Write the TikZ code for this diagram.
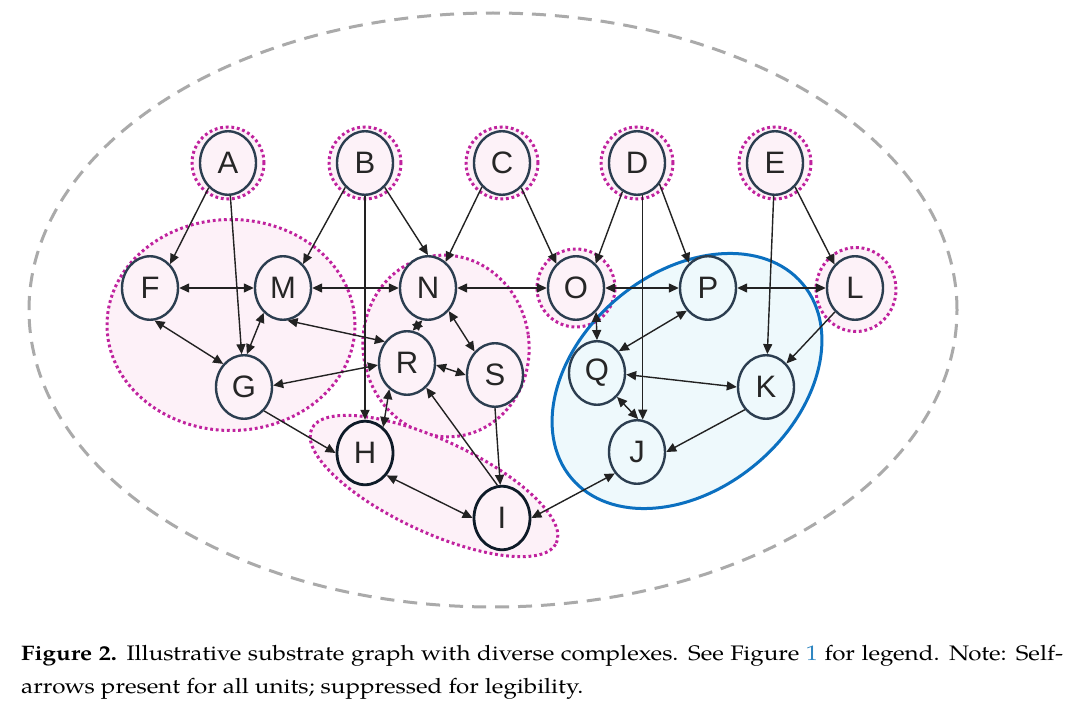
\documentclass[tikz,border=0pt]{standalone}
\usepackage{fontspec}
\setmainfont{TeX Gyre Pagella}[FakeStretch=1.15]
\newfontfamily\nodefont{Liberation Sans}
\usetikzlibrary{shapes.geometric,arrows.meta}
\definecolor{nodeborder}{HTML}{2C3E50}
\definecolor{nodedark}{HTML}{0E1B28}
\definecolor{nodepink}{HTML}{FDF2F8}
\definecolor{regpink}{HTML}{FDF1F8}
\definecolor{nodeblue}{HTML}{EEF9FC}
\definecolor{blueline}{HTML}{0B70C0}
\definecolor{ringmag}{HTML}{C0229E}
\definecolor{edgecol}{HTML}{222222}
\definecolor{grayd}{HTML}{AAAAAA}
\definecolor{textdark}{HTML}{262626}
\definecolor{linkblue}{HTML}{2E86C1}
\tikzset{
  unit/.style={ellipse, minimum width=56pt, minimum height=63.5pt, inner sep=0pt,
    draw=nodeborder, line width=2.4pt, fill=nodepink, text=textdark,
    font=\nodefont\fontsize{31}{31}\selectfont},
  bunit/.style={unit, fill=nodeblue},
  hunit/.style={unit, draw=nodedark, line width=2.8pt},
  dotline/.style={draw=ringmag, line width=3pt, dash pattern=on 2.8pt off 2.8pt},
  unitring/.style={dotline, fill=regpink},
  region/.style={dotline, fill=regpink},
  tipa/.tip={Triangle[length=10pt,width=9pt]},
  conn/.style={draw=edgecol, line width=1.4pt, -tipa},
  bconn/.style={draw=edgecol, line width=1.4pt, tipa-tipa},
  captext/.style={inner sep=0pt, font=\fontsize{21}{26}\selectfont, text=black},
}
\begin{document}
\begin{tikzpicture}[x=1pt,y=-1pt]
\useasboundingbox (0,0) rectangle (1080,709);
\fill[white] (0,0) rectangle (1080,709);
% outer dashed ellipse
\draw[grayd, line width=3pt, dash pattern=on 14pt off 9pt] (493,310) ellipse [x radius=464pt, y radius=297pt];
% pink regions
\path[region] (231,325) ellipse [x radius=124pt, y radius=105.5pt];
\path[region, shift={(446,346)}, rotate=8] (0,0) ellipse [x radius=83pt, y radius=91pt];
\path[region, shift={(434,486)}, rotate=-25] (0,0) ellipse [x radius=135pt, y radius=46pt];
% blue region fill
\fill[nodeblue, shift={(687,381)}, rotate=40] (0,0) ellipse [x radius=151pt, y radius=108pt];
% rings
\path[unitring] (228,163) circle [radius=36pt];
\path[unitring] (365,163) circle [radius=36pt];
\path[unitring] (502,163) circle [radius=36pt];
\path[unitring] (637,163) circle [radius=36pt];
\path[unitring] (775,163) circle [radius=36pt];
\path[unitring] (576,288) ellipse [x radius=39pt, y radius=39pt];
\path[unitring] (856,289.5) ellipse [x radius=40pt, y radius=42pt];
% blue region border
\draw[blueline, line width=3pt, shift={(687,381)}, rotate=40] (0,0) ellipse [x radius=151pt, y radius=108pt];
% nodes
\node[unit] (A) at (228,163) {A};
\node[unit] (B) at (365,163) {B};
\node[unit] (C) at (502,163) {C};
\node[unit] (D) at (637,163) {D};
\node[unit] (E) at (775,163) {E};
\node[unit] (F) at (150,288) {F};
\node[unit] (M) at (283,288) {M};
\node[unit] (N) at (428,288) {N};
\node[unit] (O) at (576,288) {O};
\node[bunit] (P) at (708,288) {P};
\node[unit] (L) at (855,288) {L};
\node[unit] (G) at (244,387) {G};
\node[unit] (R) at (407,363) {R};
\node[unit] (S) at (495,375) {S};
\node[bunit] (Q) at (597,373) {Q};
\node[bunit] (K) at (766,387) {K};
\node[bunit] (J) at (637,452) {J};
\node[hunit] (H) at (365,453) {H};
\node[hunit] (I) at (502,518) {I};
% one-way connectors
\draw[conn] (A.-128) -- (F.50);
\draw[conn] (A) -- (G);
\draw[conn] (B.-129) -- (M.50);
\draw[conn] (B) -- (H);
\draw[conn] (B.-51) -- (N.90);
\draw[conn] (C.-130) -- (N.56);
\draw[conn] (C.-52) -- (O.129);
\draw[conn] (D.-117) -- (O.51);
\draw[conn] (D.-80) -- (J.80);
\draw[conn] (D.-43) -- (P.127);
\draw[conn] (E) -- (K);
\draw[conn] (E.-50) -- (L.131);
\draw[conn] (L.-130) -- (K.49);
\draw[conn] (K.-133) -- (J.0);
\draw[conn] (G.-50) -- (H.180);
\draw[conn] (S.-90) -- (I.93);
\draw[conn] (I.98) -- (R.-52);
% two-way connectors
\draw[bconn] (F) -- (M);
\draw[bconn] (M) -- (N);
\draw[bconn] (N) -- (O);
\draw[bconn] (O) -- (P);
\draw[bconn] (P) -- (L);
\draw[bconn] (F.-82) -- (G.132);
\draw[bconn] (M.-128) -- (G.85);
\draw[bconn] (M.-82) -- (R.136);
\draw[bconn] (G.3) -- (R.184);
\draw[bconn] (N.-100) -- (R.80);
\draw[bconn] (N.-48) -- (S.131);
\draw[bconn] (R.-4) -- (S.180);
\draw[bconn] (R.-124) -- (H.55);
\draw[bconn] (H.-46) -- (I.180);
\draw[bconn] (J.-136) -- (I.0);
\draw[bconn] (O.-50) -- (Q.90);
\draw[bconn] (P.-133) -- (Q.45);
\draw[bconn] (Q.-3) -- (K.180);
\draw[bconn] (Q.-50) -- (J.88);
% caption
\node[captext, anchor=base west] (cap1) at (21,660.7) {\makebox[1042pt][s]{\textbf{Figure 2.} Illustrative substrate graph with diverse complexes. See Figure {\color{linkblue}1} for legend. Note: Self-}};
\node[captext, anchor=base west] (cap2) at (21,693.3) {arrows present for all units; suppressed for legibility.};
\end{tikzpicture}
\end{document}
